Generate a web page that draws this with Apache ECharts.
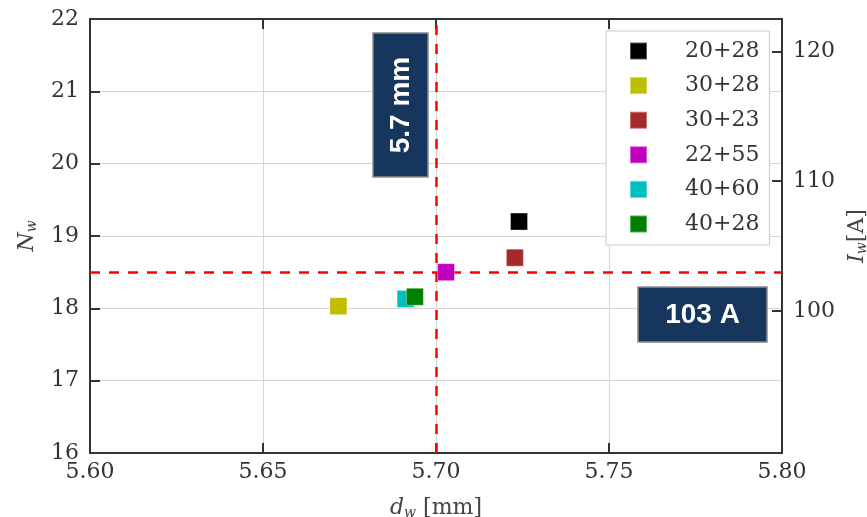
<!DOCTYPE html>
<html>
<head>
<meta charset="utf-8">
<script src="https://cdn.jsdelivr.net/npm/echarts@6/dist/echarts.min.js"></script>
<style>
  html, body { margin: 0; padding: 0; background: #fff; }
  #chart { width: 867px; height: 517px; }
</style>
</head>
<body>
<div id="chart"></div>
<script>
// cases: wire combinations
const names = ['20+28', '30+28', '30+23', '22+55', '40+60', '40+28'];
const colors = ['#000000', '#bfbf00', '#a52a2a', '#bf00bf', '#00bfbf', '#008000'];
// d_w [mm] and N_w for each case
const dw = [5.724, 5.6718, 5.7228, 5.7029, 5.6912, 5.6939];
const nw = [19.2, 18.03, 18.70, 18.5, 18.13, 18.16];

// reference lines
const dwRef = 5.7;
const nwRef = 18.5;
const iwRef = 103;

const xTicks = [5.60, 5.65, 5.70, 5.75, 5.80];
const nwTicks = [16, 17, 18, 19, 20, 21, 22];
const iwTicks = [100, 110, 120];

const serif = 'DejaVu Serif';
const axisColor = '#333';
const gridColor = '#d6d6d6';

let chart = echarts.init(document.getElementById('chart'), null, { renderer: 'canvas' });

// right axis is N_w scaled so that 18.5 <-> 103 A
const k = iwRef / nwRef;

let series = names.map((n, i) => ({
    name: n,
    type: 'scatter',
    symbol: 'rect',
    symbolSize: 17,
    z: 5,
    itemStyle: { color: colors[i], opacity: 1, borderColor: 'rgba(255,255,255,0.35)', borderWidth: 1 },
    data: [[dw[i], nw[i]]]
}));

series.unshift({
    name: 'refs',
    type: 'line',
    data: [],
    z: 2,
    markLine: {
        silent: true,
        symbol: 'none',
        label: { show: false },
        lineStyle: { color: '#ff0000', width: 2.5, type: [10, 9] },
        data: [{ xAxis: dwRef }, { yAxis: nwRef }]
    }
});

const tickStyle = { show: true, inside: true, length: 10, lineStyle: { color: axisColor, width: 2 } };
const lineStyle = { show: true, onZero: false, lineStyle: { color: axisColor, width: 2 } };
const labelStyle = { fontFamily: serif, fontSize: 22, color: '#333' };
const nameRich = {
    i: { fontFamily: serif, fontStyle: 'italic', fontSize: 22, color: '#444' },
    s: { fontFamily: serif, fontStyle: 'italic', fontSize: 14, color: '#444', verticalAlign: 'bottom', padding: [10, 0, 0, 0] },
    t: { fontFamily: serif, fontSize: 22, color: '#444' }
};

let option = {
    animation: false,
    backgroundColor: '#fff',
    grid: { left: 90, right: 85, top: 19, bottom: 64, outerBoundsMode: 'none', containLabel: false },
    legend: {
        data: names,
        orient: 'vertical',
        left: 606,
        top: 31,
        padding: [9, 10, 10, 23],
        backgroundColor: '#fff',
        borderColor: '#cccccc',
        borderWidth: 1,
        itemWidth: 17,
        itemHeight: 17,
        itemGap: 12.6,
        icon: 'rect',
        textStyle: { fontFamily: serif, fontSize: 22, color: '#333', padding: [0, 0, 0, 33] }
    },
    xAxis: [{
        type: 'value',
        min: xTicks[0],
        max: xTicks[xTicks.length - 1],
        interval: 0.05,
        axisLine: lineStyle,
        axisTick: tickStyle,
        splitLine: { show: true, lineStyle: { color: gridColor, width: 1 } },
        axisLabel: Object.assign({ margin: 8, formatter: v => v.toFixed(2) }, labelStyle),
        name: '{i|d}{s|w}{t| [mm]}',
        nameLocation: 'middle',
        nameGap: 43,
        nameTextStyle: { rich: nameRich }
    }, {
        type: 'value',
        position: 'top',
        min: xTicks[0],
        max: xTicks[xTicks.length - 1],
        interval: 0.05,
        axisLine: lineStyle,
        axisTick: tickStyle,
        splitLine: { show: false },
        axisLabel: { show: false }
    }],
    yAxis: [{
        type: 'value',
        min: nwTicks[0],
        max: nwTicks[nwTicks.length - 1],
        interval: 1,
        axisLine: lineStyle,
        axisTick: tickStyle,
        splitLine: { show: true, lineStyle: { color: gridColor, width: 1 } },
        axisLabel: Object.assign({ margin: 11 }, labelStyle),
        name: '{i|N}{s|w}',
        nameLocation: 'middle',
        nameGap: 51,
        nameRotate: 90,
        nameTextStyle: { rich: nameRich }
    }, {
        type: 'value',
        position: 'right',
        min: nwTicks[0] * k,
        max: nwTicks[nwTicks.length - 1] * k,
        axisLine: lineStyle,
        axisTick: Object.assign({ customValues: iwTicks }, tickStyle),
        splitLine: { show: false },
        axisLabel: Object.assign({ margin: 11, customValues: iwTicks }, labelStyle),
        name: '{i|I}{s|w}{t|[A]}',
        nameLocation: 'middle',
        nameGap: 59,
        nameRotate: 90,
        nameTextStyle: { rich: nameRich }
    }],
    graphic: [
        { type: 'rect', shape: { x: 373, y: 33, width: 55, height: 144 },
          style: { fill: '#17365d', stroke: '#8a8a8a', lineWidth: 1.5 }, z: 10 },
        { type: 'text', x: 401, y: 105, rotation: Math.PI / 2,
          style: { text: dwRef + ' mm', fill: '#fff', font: 'bold 28px "Liberation Sans", Arial, sans-serif',
                   textAlign: 'center', textVerticalAlign: 'middle' }, z: 11 },
        { type: 'rect', shape: { x: 638, y: 287, width: 129, height: 55 },
          style: { fill: '#17365d', stroke: '#8a8a8a', lineWidth: 1.5 }, z: 10 },
        { type: 'text', x: 702.5, y: 315,
          style: { text: iwRef + ' A', fill: '#fff', font: 'bold 28px "Liberation Sans", Arial, sans-serif',
                   textAlign: 'center', textVerticalAlign: 'middle' }, z: 11 }
    ],
    series: series
};

option && chart.setOption(option);
</script>
</body>
</html>
